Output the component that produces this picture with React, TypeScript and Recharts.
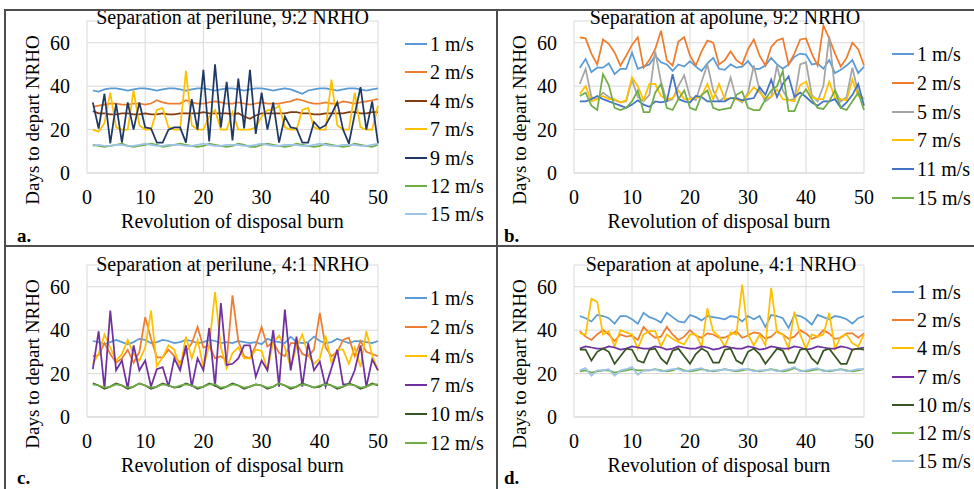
import React from "react";
import { LineChart, Line, XAxis, YAxis, CartesianGrid } from "recharts";

const REVS = [1,2,3,4,5,6,7,8,9,10,11,12,13,14,15,16,17,18,19,20,21,22,23,24,25,26,27,28,29,30,31,32,33,34,35,36,37,38,39,40,41,42,43,44,45,46,47,48,49,50];
const X_TICKS = [0, 10, 20, 30, 40, 50];
const Y_TICKS = [0, 20, 40, 60];

// Panel a: separation at perilune, 9:2 NRHO
const A_1 = [38,37.5,38.5,39,39,38.5,38,38.5,39,39, 38.5,38,38.5,39,39,38.5,38,38.5,39,39, 38.5,38,38.5,39,39,38.5,38,38.5,39,39, 38.5,38,38.5,39,38.5,37.5,36.5,38,38.5,39, 39,38.5,38,38.5,39,39,38.5,38,38.5,39];
const A_2 = [30.5,31,31.5,32,32,31.5,31.5,32,32,31.5, 32,33.5,32.5,32,32,32,33.5,32.5,32,32, 32.5,33,32.5,32,32,32.5,32,31.5,32,32.5, 32,32,32,32.5,33,34,33.5,32.5,32,32, 32.5,32,32,33,32.5,32,32.5,33,33.5,34];
const A_4 = [28.5,27.5,27.5,27,27,27.5,27.5,27,27,27.5, 27,27,27.5,27,27,27.5,27.5,27.5,27.5,28, 27.5,27.5,27.5,27.5,27,27.5,26,25,26.5,27.5, 27.5,27.5,27.5,27.5,28,28,27.5,27.5,27,27, 27.5,27.5,27.5,27.5,28,28,27.5,27.5,28,28];
const A_7 = [20,19,23,37,21,20,20,38,22,20, 20,29,30,21,20,20,47,22,20,20, 26,29,20,20,28,20,20,20,21,26, 29,29,31,21,20,20,29,30,21,20, 20,43,22,20,20,37,21,20,20,31];
const A_9 = [32.5,20.5,36.5,13.6,32,14,32.5,20,32.5,21, 20.5,14,14,20,21,21,14,34,20,47.5, 14.5,50,21,42,15,43.5,20.5,47.5,18,37, 20,32.5,14,26,21,20.5,14,14,23.5,20.5, 22,27,32.5,20,13.6,27,39.5,20,33,13.6];
const A_12 = [13,12.5,12,12.5,13,13.5,12.5,12,12.5,13, 13.5,13,12,12.5,13,13.5,13,12.5,12,12.5, 13.5,13,12.5,12,12.5,13.5,13,12,12,13, 13.5,13,12.5,12,12.5,13.5,13,12.5,12,12.5, 13.5,13,12.5,12,12.5,13.5,13,12.5,12,13];
const A_15 = [12.5,13,12.5,12.5,13,13,12.5,12.5,13,13.5, 13,12.5,12.5,13,13,13,12.5,12.5,13,13.5, 13,12.5,12.5,13,13,13,12.5,12.5,13,13.5, 13,12.5,12.5,13,13,13,12.5,12.5,13,13.5, 13,12.5,12.5,13,13,13,12.5,12.5,13,13.5];

// Panel b: separation at apolune, 9:2 NRHO
const B_1 = [48.5,52.5,46.5,48.5,48.5,50.5,45.5,48,48,55.5, 48,49,50,54,51,50,47,50,49,51.5, 49,47,50.5,53,48,47.5,50,48.5,49,51.5, 48,48,49.5,53,50,48,50,53.5,55,54.5, 50,50.5,48,52,46,47.5,49.5,52,46,49];
const B_2 = [62.5,62,55,50,61.5,59.5,55.5,49.5,54,59, 62.5,48.5,52,57,65.5,52,49.5,60.5,62.5,54, 49.5,56,61,60,50,52,56,52,50,57, 61.5,54,49.5,58,61,62,50,55,61.5,62, 55,49.5,68,62,55,49,53,60,57,49.5];
const B_5 = [41,48,35,34,37,35,33.5,32.5,33,43, 35,33,36,56,42,33,34,40,45,35, 33.5,42,50,38,33,35,44,34,32.5,37, 49.5,38,33,35,49.5,38,33.5,34,50,51, 36,33,40,63,38,33,35,48.5,37,34];
const B_7 = [36.5,40,33,34,35.5,34,34,32.5,33.5,44, 40,33.5,41,41,35.5,34,34.5,38,34,34, 34.5,35.5,41,34,41,34,34.5,34,33,36, 39.5,37,34.5,35,38.5,34,33.5,33,40.5,42, 35,34,34,42,34.5,34,33.5,43,35.5,34.5];
const B_11 = [33,33,34,35.5,34,33,32,31,30,31.5, 33.5,31.5,30.5,33,32.5,33,45.5,34,33,32.5, 35.5,35,33,33,33,33,34.5,34.5,33.5,34, 34.5,39.5,36,43,35,41,44.5,35,37,35, 32.5,31,33,33,34,30,32.5,36,41,31];
const B_15 = [35.5,37,31,29,45.5,40.5,30,29,30,33, 38,28,28,37,41,30,29,34,38,30, 29,36,38,30,29,29.5,30,36,37.5,30, 29,29,34,38,40,47,28.5,28.5,35,38.5, 34,30,29.5,33,38,30,29,33,37,29];

// Panel c: separation at perilune, 4:1 NRHO
const C_1 = [35,34.5,33.5,34.5,35.5,34.5,33.5,34.5,36,35.5, 34,34.5,35.5,35,34,34.5,35.5,35,34,34.5, 35.5,35,34,34.5,34,35,34.5,34,34.5,33.5, 36,35,34.5,34,37,34.5,34,34.5,37,35, 34,34.5,36,35,34,35,35,34.5,34,35];
const C_2 = [28,28.5,34,29,25,27,31,25,30,46, 36,27.5,27.5,31,28,25,30,34,41.5,32, 33,27,28,26,56,35,28,27,33,41.5, 32.5,34.5,29.5,28,34,34,29,28,31,48, 32,28,30,35.5,36.5,28,35,30,29,28];
const C_4 = [24.5,29,38,32,26,29,35.5,29,26,32, 49,23.5,27.5,33,31,22.5,37,27,35.5,23, 33,57.5,32,22.5,29.5,32,27,27,31,30.5, 21.5,34.5,37.5,32,23,32.5,38,28.5,24.5,27, 37.5,25,31,31,24.5,32,23,39.5,28.5,21.5];
const C_7 = [22,39.5,13,49,21.5,26,13,33,21.5,26, 14,22,23,14,27,21.5,33,14,27,21.5, 41,14,52.5,24,24.5,27,33,33,18.5,26, 21.5,40,14,49.5,21.5,37,14,34,21.5,25.5, 14,22.5,31,15,15,21.5,33,14,26.5,21.5];
const C_10 = [15.5,14.5,13,14,15.5,14.5,13,14,15.5,14.5, 13,14,15.5,14.5,13.5,14,15.5,14.5,13,14, 15.5,14.5,13,14,15.5,14.5,13,14,15,14.5, 13,14,15.5,14.5,13,14,15.5,14.5,13.5,14, 15.5,14.5,13,14,15.5,14.5,13,14,15.5,14.5];
const C_12 = [15,14.5,13.5,14,15,14.5,13.5,14,15.5,14.5, 13.5,14,15,14.5,13.5,14.5,15,14.5,13.5,14, 15,15,13.5,14,15,14.5,13.5,14,15,14.5, 13.5,14,15.5,14.5,13.5,14,15,14.5,13.5,14.5, 15,14.5,13.5,14,15,14.5,13.5,14,15,15];

// Panel d: separation at apolune, 4:1 NRHO
const D_1 = [46.5,45.5,44,47,46.5,45.5,43,46.5,46.5,45, 43,48,46,45,43.5,48,46,44,43.5,47, 46,44.5,46.5,46,45.5,45,46.5,46,44,46.5, 45,46.5,41.5,47,46.5,45.5,41,47,46.5,45, 42.5,47,46,45,46.5,46,45,43,45.5,46.5];
const D_2 = [39.5,37,35.5,38,40,38,35,38,37,37.5, 35.5,41.5,38.5,36.5,37,41.5,38,35.5,37,40, 37.5,36.5,38.5,38,36.5,36.5,38,39.5,36.5,37.5, 39,38.5,36,37,39.5,38,36,37,40,38.5, 36,37,40,38.5,36,36.5,38.5,38.5,36.5,38.5];
const D_4 = [38.5,38,54.5,53,38,39.5,32.5,40,39,38, 31.5,38,39.5,39.5,32.5,38,36,34.5,33.5,38, 38,32.5,50,39.5,37,32.5,39,38,61,38, 33,38,33,59.5,39,38,31.5,48.5,38,31.5, 38,37,38,48,31.5,37,38,34,32.5,38];
const D_7 = [31.5,32.5,32,31.5,31.5,32.5,32,31,31.5,32.5, 32,31.5,31.5,32.5,32,31,31.5,32.5,32,31.5, 31.5,32.5,32,31,31.5,32.5,32,31.5,31.5,32.5, 32,31,31.5,32.5,32,31.5,31.5,32.5,32,31, 31.5,32.5,32,31.5,31.5,32.5,32,31,31.5,32];
const D_10 = [31,31,26,30,31.5,30,24.5,28,31.5,31, 26,25,31,31.5,27,24.5,30.5,31.5,28,24.5, 29,31.5,30,25,25,31,31.5,26,24.5,30, 31.5,29,24.5,28,31.5,30.5,25,25,31,31.5, 27,24.5,30.5,31.5,28,24.5,24.5,31,31.5,31];
const D_12 = [21,21.5,20.5,21,21.5,21.5,20.5,21,21.5,22, 21.5,21.5,21.5,22,21.5,21,21.5,22.5,21.5,21, 21.5,22,21.5,21,21.5,22,21.5,21,21.5,22, 21.5,21,21.5,22,21.5,21,21.5,22.5,21.5,21, 21.5,22,21.5,21,21.5,22,21.5,21,21.5,22];
const D_15 = [21.5,22.5,19,21.5,21.5,22,19,21.5,22,23, 19.5,21.5,21.5,22,21,21.5,22,22,21,21.5, 22,22.5,21,21.5,21.5,22,21.5,21.5,22,22, 21,21.5,21.5,22,21,21.5,22,23,21,21.5, 22,22.5,21,21.5,21.5,22,21,21.5,22,22];

type Series = { name: string; values: number[]; color: string };

const PANEL_A: Series[] = [
  { name: "1 m/s", values: A_1, color: "#5B9BD5" },
  { name: "2 m/s", values: A_2, color: "#ED7D31" },
  { name: "4 m/s", values: A_4, color: "#843C0C" },
  { name: "7 m/s", values: A_7, color: "#FFC000" },
  { name: "9 m/s", values: A_9, color: "#203864" },
  { name: "12 m/s", values: A_12, color: "#70AD47" },
  { name: "15 m/s", values: A_15, color: "#9DC3E6" },
];
const PANEL_B: Series[] = [
  { name: "1 m/s", values: B_1, color: "#5B9BD5" },
  { name: "2 m/s", values: B_2, color: "#ED7D31" },
  { name: "5 m/s", values: B_5, color: "#A5A5A5" },
  { name: "7 m/s", values: B_7, color: "#FFC000" },
  { name: "11 m/s", values: B_11, color: "#4472C4" },
  { name: "15 m/s", values: B_15, color: "#70AD47" },
];
const PANEL_C: Series[] = [
  { name: "1 m/s", values: C_1, color: "#5B9BD5" },
  { name: "2 m/s", values: C_2, color: "#ED7D31" },
  { name: "4 m/s", values: C_4, color: "#FFC000" },
  { name: "7 m/s", values: C_7, color: "#7030A0" },
  { name: "10 m/s", values: C_10, color: "#375623" },
  { name: "12 m/s", values: C_12, color: "#70AD47" },
];
const PANEL_D: Series[] = [
  { name: "1 m/s", values: D_1, color: "#5B9BD5" },
  { name: "2 m/s", values: D_2, color: "#ED7D31" },
  { name: "4 m/s", values: D_4, color: "#FFC000" },
  { name: "7 m/s", values: D_7, color: "#7030A0" },
  { name: "10 m/s", values: D_10, color: "#375623" },
  { name: "12 m/s", values: D_12, color: "#70AD47" },
  { name: "15 m/s", values: D_15, color: "#9DC3E6" },
];

const FONT = '"Liberation Serif", "Times New Roman", serif';
const GRID = "#D9D9D9";

function buildRows(series: Series[]) {
  return REVS.map((r, i) => {
    const row: Record<string, number> = { rev: r };
    series.forEach((s, k) => {
      row["s" + k] = s.values[i];
    });
    return row;
  });
}

type PanelProps = {
  left: number;
  top: number;
  title: string;
  titleTop: number;
  titleShift: number;
  letter: string;
  letterTop: number;
  series: Series[];
  legendTop: number;
  legendStep: number;
  legendLeft: number;
  marginRight: number;
};

function Panel(p: PanelProps) {
  const data = buildRows(p.series);
  const W = 487;
  const H = 245;
  const plotLeft = 87;
  const plotRight = W - p.marginRight;
  const cx = (plotLeft + plotRight) / 2;
  return (
    <div style={{ position: "absolute", left: p.left, top: p.top, width: W, height: H }}>
      <LineChart
        width={W}
        height={H}
        data={data}
        margin={{ top: 21, right: p.marginRight, bottom: 42, left: 47 }}
      >
        <CartesianGrid stroke={GRID} strokeWidth={1} />
        <XAxis
          dataKey="rev"
          type="number"
          domain={[0, 50]}
          ticks={X_TICKS}
          height={30}
          tickSize={0}
          tickMargin={17}
          axisLine={{ stroke: GRID }}
          tickLine={false}
          tick={{ fill: "#000", fontSize: 20, fontFamily: FONT }}
          interval={0}
        />
        <YAxis
          type="number"
          domain={[0, 70]}
          ticks={Y_TICKS}
          width={40}
          tickSize={0}
          tickMargin={17}
          axisLine={false}
          tickLine={false}
          tick={{ fill: "#000", fontSize: 20, fontFamily: FONT }}
          interval={0}
        />
        {p.series.map((s, k) => (
          <Line
            key={s.name}
            type="linear"
            dataKey={"s" + k}
            stroke={s.color}
            strokeWidth={1.75}
            dot={false}
            isAnimationActive={false}
          />
        ))}
      </LineChart>
      <div
        style={{
          position: "absolute",
          left: cx - 200 + p.titleShift,
          width: 400,
          top: p.titleTop,
          textAlign: "center",
          fontFamily: FONT,
          fontSize: 20,
          lineHeight: "22px",
          color: "#000",
          whiteSpace: "nowrap",
        }}
      >
        {p.title}
      </div>
      <div
        style={{
          position: "absolute",
          left: cx - 200,
          width: 400,
          top: 210,
          textAlign: "center",
          fontFamily: FONT,
          fontSize: 20,
          lineHeight: "22px",
          color: "#000",
          whiteSpace: "nowrap",
        }}
      >
        Revolution of disposal burn
      </div>
      <div
        style={{
          position: "absolute",
          left: 33 - 110,
          top: 120 - 11,
          width: 220,
          height: 22,
          textAlign: "center",
          fontFamily: FONT,
          fontSize: 19,
          lineHeight: "22px",
          color: "#000",
          whiteSpace: "nowrap",
          transform: "rotate(-90deg)",
        }}
      >
        Days to depart NRHO
      </div>
      <div
        style={{
          position: "absolute",
          left: 17,
          top: p.letterTop,
          fontFamily: FONT,
          fontSize: 19,
          fontWeight: "bold",
          lineHeight: "18px",
          color: "#000",
        }}
      >
        {p.letter}
      </div>
      {p.series.map((s, k) => (
        <div
          key={s.name}
          style={{
            position: "absolute",
            left: p.legendLeft,
            top: p.legendTop + k * p.legendStep - 11,
            height: 22,
            display: "flex",
            alignItems: "center",
            fontFamily: FONT,
            fontSize: 20,
            color: "#000",
            whiteSpace: "nowrap",
          }}
        >
          <div style={{ width: 22, height: 2, background: s.color, marginRight: 3 }} />
          <span style={{ lineHeight: "22px" }}>{s.name}</span>
        </div>
      ))}
    </div>
  );
}

export default function App() {
  const line = "#4D4D4D";
  return (
    <div
      style={{
        position: "absolute",
        left: 0,
        top: 0,
        width: 974,
        height: 489,
        background: "#fff",
        overflow: "hidden",
      }}
    >
      <Panel
        left={0}
        top={0}
        title="Separation at perilune, 9:2 NRHO"
        titleTop={6}
        titleShift={0}
        letter="a."
        letterTop={227}
        series={PANEL_A}
        legendTop={44}
        legendStep={28.4}
        legendLeft={405}
        marginRight={109}
      />
      <Panel
        left={487}
        top={0}
        title="Separation at apolune, 9:2 NRHO"
        titleTop={6}
        titleShift={6}
        letter="b."
        letterTop={227}
        series={PANEL_B}
        legendTop={54}
        legendStep={28.8}
        legendLeft={405}
        marginRight={110}
      />
      <Panel
        left={0}
        top={244}
        title="Separation at perilune, 4:1 NRHO"
        titleTop={9}
        titleShift={0}
        letter="c."
        letterTop={225}
        series={PANEL_C}
        legendTop={54}
        legendStep={29}
        legendLeft={405}
        marginRight={109}
      />
      <Panel
        left={487}
        top={244}
        title="Separation at apolune, 4:1 NRHO"
        titleTop={9}
        titleShift={2}
        letter="d."
        letterTop={225}
        series={PANEL_D}
        legendTop={48}
        legendStep={28.2}
        legendLeft={405}
        marginRight={110}
      />
      <div style={{ position: "absolute", left: 4, top: 9, width: 968, height: 478, border: `2px solid ${line}` }} />
      <div style={{ position: "absolute", left: 496, top: 9, width: 2, height: 480, background: line }} />
      <div style={{ position: "absolute", left: 4, top: 245, width: 970, height: 2, background: line }} />
    </div>
  );
}
